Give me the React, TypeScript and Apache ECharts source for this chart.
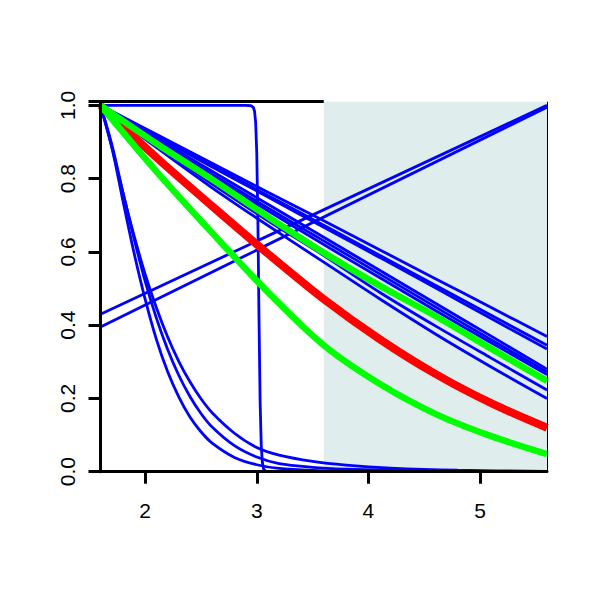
import React, { useEffect, useRef } from "react";
import * as echarts from "echarts";

// x grids
const xSteep = [1.6, 1.7, 1.8, 1.9, 2.0, 2.1, 2.2, 2.3, 2.4, 2.5, 2.6, 2.8, 3.0, 3.2, 3.5, 3.8, 4.2, 4.8, 5.6];
const xStep = [1.6, 2.9, 2.95, 2.97, 2.98, 2.99, 3.0, 3.01, 3.02, 3.03, 3.04, 3.05, 3.06, 3.08, 3.1, 5.6];
const xLine = [1.6, 5.6];
const xMain = [1.6, 2.1, 2.6, 3.1, 3.6, 4.1, 4.6, 5.1, 5.6];

// fast-decaying blue curves
const steepLow = [1, 0.888, 0.741, 0.598, 0.471, 0.362, 0.274, 0.205, 0.15, 0.109, 0.078, 0.039, 0.019, 0.009, 0.0035, 0.0015, 0.0005, 0.0001, 0];
const steepMid = [1, 0.895, 0.764, 0.637, 0.52, 0.42, 0.335, 0.264, 0.206, 0.159, 0.122, 0.071, 0.04, 0.022, 0.012, 0.007, 0.004, 0.0015, 0];
const steepTop = [1, 0.887, 0.762, 0.645, 0.539, 0.448, 0.369, 0.302, 0.246, 0.199, 0.161, 0.105, 0.066, 0.045, 0.028, 0.018, 0.01, 0.004, 0.001];

// step-like blue curve
const stepCurve = [1, 1, 0.999, 0.994, 0.984, 0.953, 0.869, 0.685, 0.418, 0.191, 0.072, 0.025, 0.008, 0.001, 0, 0];

// rising blue lines
const rising1 = [0.43, 1.0];
const rising2 = [0.395, 0.995];

// slowly decaying blue curves
const blue1 = [1, 0.921, 0.842, 0.763, 0.685, 0.606, 0.527, 0.448, 0.369];
const blue2 = [1, 0.918, 0.836, 0.754, 0.673, 0.591, 0.509, 0.427, 0.345];
const blue3 = [1, 0.915, 0.832, 0.75, 0.667, 0.585, 0.502, 0.418, 0.335];
const blue4 = [1, 0.91, 0.82, 0.73, 0.64, 0.55, 0.46, 0.37, 0.28];
const blue5 = [1, 0.905, 0.812, 0.72, 0.63, 0.54, 0.45, 0.36, 0.272];
const blue6 = [1, 0.9, 0.805, 0.712, 0.62, 0.53, 0.44, 0.352, 0.265];
const blue7 = [1, 0.89, 0.785, 0.685, 0.59, 0.49, 0.398, 0.31, 0.223];
const blue8 = [1, 0.885, 0.775, 0.672, 0.572, 0.472, 0.376, 0.286, 0.2];

// highlighted curves
const redCurve = [1, 0.858, 0.725, 0.595, 0.471, 0.362, 0.267, 0.187, 0.12];
const greenLow = [1, 0.82, 0.652, 0.49, 0.345, 0.24, 0.158, 0.097, 0.048];
const greenHigh = [1, 0.896, 0.798, 0.696, 0.598, 0.508, 0.425, 0.336, 0.248];

// axis ticks
const xTicks = [2, 3, 4, 5];
const shadeRange = [3.6, 5.6];

const pairs = (xs: number[], ys: number[]) => xs.map((x, i) => [x, ys[i]]);

const BLUE = "#0000ff";
const FONT = "'Liberation Sans', Arial, Helvetica, sans-serif";

export default function App() {
  const ref = useRef<HTMLDivElement>(null);
  useEffect(() => {
    if (!ref.current) return;
    const chart = echarts.init(ref.current, undefined, { renderer: "svg" });

    const curve = (xs: number[], ys: number[], smooth: boolean, color: string, width: number) => ({
      type: "line",
      data: pairs(xs, ys),
      showSymbol: false,
      smooth: smooth ? 0.3 : false,
      lineStyle: { color, width },
      itemStyle: { color },
      silent: true,
      clip: true,
    });

    const option: any = {
      animation: false,
      backgroundColor: "#ffffff",
      grid: { left: 100.5, top: 101.7, width: 446.5, height: 370 },
      xAxis: {
        type: "value",
        min: 1.6,
        max: 5.6,
        z: 10,
        splitLine: { show: false },
        axisLine: { show: true, onZero: false, lineStyle: { color: "#000", width: 3 } },
        axisTick: { show: true, customValues: xTicks, length: 12, lineStyle: { color: "#000", width: 3 } },
        axisLabel: {
          show: true,
          customValues: xTicks,
          margin: 28,
          fontSize: 21,
          color: "#000",
          fontFamily: FONT,
        },
      },
      yAxis: {
        type: "value",
        min: 0,
        max: 1.01,
        interval: 0.2,
        z: 10,
        splitLine: { show: false },
        axisLine: { show: true, onZero: false, lineStyle: { color: "#000", width: 3 } },
        axisTick: { show: true, length: 12, lineStyle: { color: "#000", width: 3 } },
        axisLabel: {
          show: true,
          rotate: 90,
          margin: 23,
          fontSize: 21,
          color: "#000",
          fontFamily: FONT,
          formatter: (v: number) => (v > 1.001 ? "" : v.toFixed(1)),
        },
      },
      series: [
        {
          type: "line",
          data: [],
          silent: true,
          clip: false,
          markArea: {
            silent: true,
            itemStyle: { color: "#e0eded" },
            data: [[{ xAxis: shadeRange[0], yAxis: 0 }, { xAxis: shadeRange[1], yAxis: 1.01 }]],
          },
          markLine: {
            silent: true,
            symbol: "none",
            label: { show: false },
            data: [
              [
                { coord: [1.6, 1.01], lineStyle: { color: "#000", width: 3, type: "solid" } },
                { coord: [shadeRange[0], 1.01] },
              ],
              [
                { coord: [5.6, 0], lineStyle: { color: "#000", width: 1, type: "solid" } },
                { coord: [5.6, 1.01] },
              ],
            ],
          },
        },
        curve(xStep, stepCurve, false, BLUE, 2.8),
        curve(xLine, rising1, false, BLUE, 2.8),
        curve(xLine, rising2, false, BLUE, 2.8),
        curve(xSteep, steepLow, true, BLUE, 2.8),
        curve(xSteep, steepMid, true, BLUE, 2.8),
        curve(xSteep, steepTop, true, BLUE, 2.8),
        curve(xMain, blue1, true, BLUE, 2.8),
        curve(xMain, blue2, true, BLUE, 2.8),
        curve(xMain, blue3, true, BLUE, 2.8),
        curve(xMain, blue4, true, BLUE, 2.8),
        curve(xMain, blue5, true, BLUE, 2.8),
        curve(xMain, blue6, true, BLUE, 2.8),
        curve(xMain, blue7, true, BLUE, 2.8),
        curve(xMain, blue8, true, BLUE, 2.8),
        curve(xMain, redCurve, true, "#ff0000", 8),
        curve(xMain, greenLow, true, "#00ff00", 6.5),
        curve(xMain, greenHigh, true, "#00ff00", 6.5),
      ],
    };
    chart.setOption(option);
    return () => chart.dispose();
  }, []);
  return (
    <div
      ref={ref}
      style={{ position: "fixed", left: 0, top: 0, width: 600, height: 600, background: "#fff" }}
    />
  );
}
